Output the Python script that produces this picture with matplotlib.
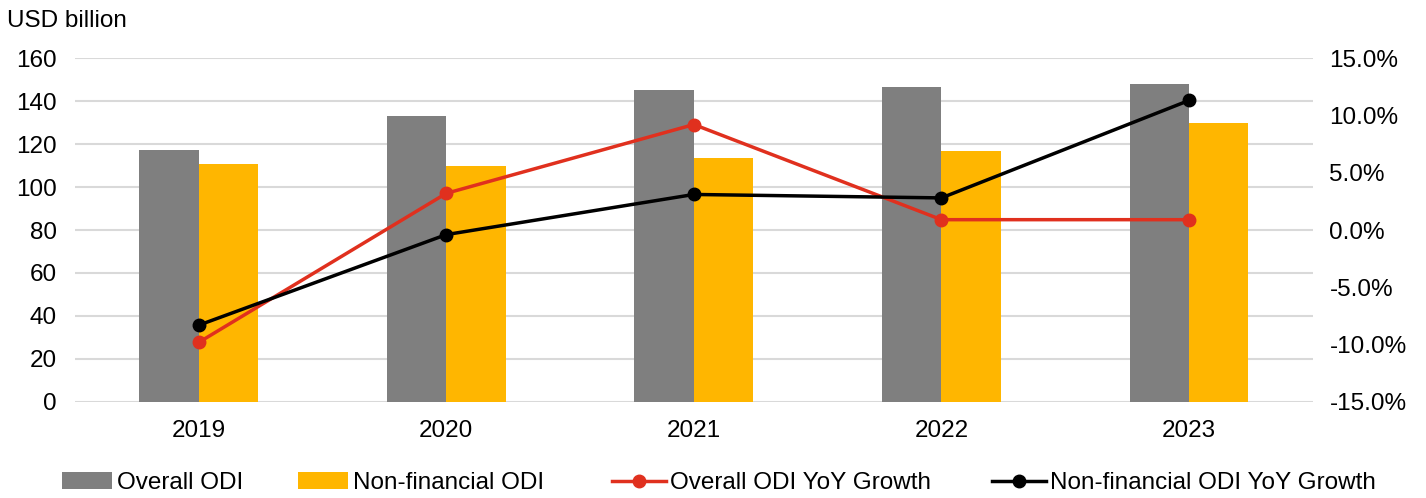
import matplotlib
matplotlib.use("Agg")
import matplotlib.pyplot as plt
from matplotlib.ticker import FuncFormatter
import numpy as np

plt.rcParams['font.family'] = ['Liberation Sans', 'DejaVu Sans']

years = ["2019", "2020", "2021", "2022", "2023"]
overall_odi = [117.0, 133.0, 145.0, 146.5, 147.9]
nonfin_odi = [110.5, 109.8, 113.5, 116.7, 129.8]
overall_yoy = [-9.8, 3.2, 9.2, 0.9, 0.9]
nonfin_yoy = [-8.3, -0.4, 3.1, 2.8, 11.3]

FS = 17.5
fig = plt.figure(figsize=(14.26, 4.98), dpi=100)
ax = fig.add_axes([0.0526, 0.1928, 0.868, 0.6907])
x = np.arange(len(years))
w = 0.24
ax.bar(x - w/2, overall_odi, w, color="#7F7F7F", label="Overall ODI", zorder=2)
ax.bar(x + w/2, nonfin_odi, w, color="#FFB600", label="Non-financial ODI", zorder=2)
ax.set_ylim(0, 160)
ax.set_yticks(range(0, 161, 20))
ax.set_xlim(-0.5, len(years) - 0.5)
ax.set_xticks(x)
ax.set_xticklabels(years)
ax.grid(axis='y', color="#D9D9D9", linewidth=1.5, zorder=0)
ax.set_axisbelow(True)
for s in ax.spines.values():
    s.set_visible(False)
ax.tick_params(length=0, labelsize=FS)
ax.tick_params(axis='x', pad=13)
ax.tick_params(axis='y', pad=13)

ax2 = ax.twinx()
ax2.plot(x, overall_yoy, color="#E0301E", linewidth=2.5, marker='o', markersize=9,
         label="Overall ODI YoY Growth", zorder=3)
ax2.plot(x, nonfin_yoy, color="#000000", linewidth=2.5, marker='o', markersize=9,
         label="Non-financial ODI YoY Growth", zorder=3)
ax2.set_ylim(-15, 15)
ax2.set_yticks(range(-15, 16, 5))
ax2.yaxis.set_major_formatter(FuncFormatter(lambda v, p: f"{v:.1f}%"))
for s in ax2.spines.values():
    s.set_visible(False)
ax2.tick_params(length=0, labelsize=FS, pad=12)

fig.text(0.005, 0.958, "USD billion", fontsize=FS, ha='left', va='center')

h1, l1 = ax.get_legend_handles_labels()
h2, l2 = ax2.get_legend_handles_labels()
leg_x = [0.0435, 0.2090, 0.4292, 0.6957]
hlen = [2.05, 2.05, 2.2, 2.2]
for h, l, lx, hl in zip(h1 + h2, l1 + l2, leg_x, hlen):
    fig.legend([h], [l], loc='center left', bbox_to_anchor=(lx, 0.03),
               frameon=False, fontsize=FS, handlelength=hl, handletextpad=0.2,
               borderpad=0, borderaxespad=0)

fig.savefig("out.png", dpi=100)
